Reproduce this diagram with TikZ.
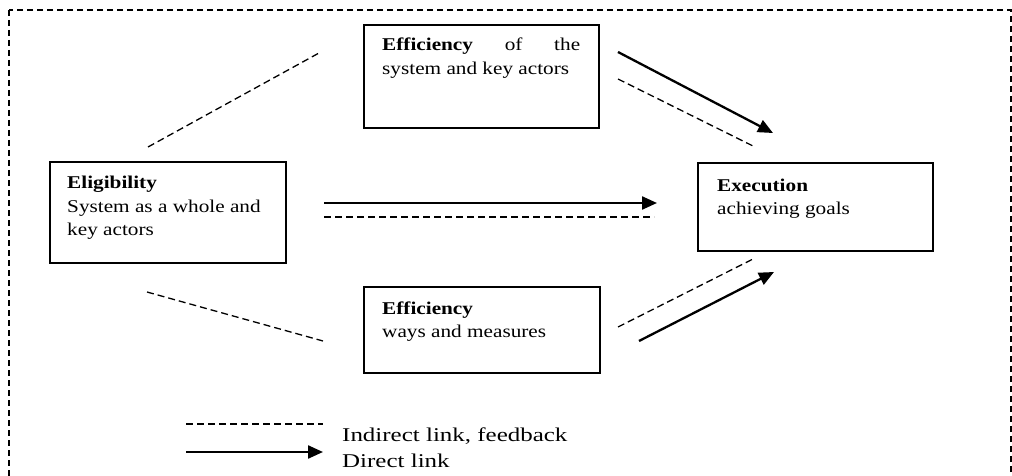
\documentclass[tikz,border=0pt]{standalone}
\usepackage{fontspec}
\setmainfont{Liberation Serif}[FakeStretch=1.18]
\newfontfamily\legfont{Liberation Serif}[FakeStretch=1.28]
\usetikzlibrary{arrows.meta}
\tikzset{
  box/.style={draw, line width=1.7pt, rectangle, anchor=north west, inner sep=0pt},
  lbl/.style={anchor=base west, inner sep=0pt, font=\fontsize{18}{23.5}\selectfont},
  leg/.style={anchor=base west, inner sep=0pt, font=\legfont\fontsize{19.5}{26}\selectfont},
  ind/.style={line width=1.3pt, dash pattern=on 7pt off 4pt},
  dir/.style={line width=2.3pt, -{Triangle[length=15pt,width=13pt]}},
  frame/.style={line width=1.6pt, dash pattern=on 6pt off 4pt}
}
\begin{document}
\begin{tikzpicture}[x=1pt,y=-1pt]
\useasboundingbox (0,0) rectangle (1012,476);
\draw[frame] (9,10) rectangle (1011,500);
% boxes
\node[box, minimum width=235, minimum height=103] (effA) at (363,24) {};
\node[box, minimum width=236, minimum height=101] (elig) at (49,161) {};
\node[box, minimum width=235, minimum height=88] (exec) at (697,162) {};
\node[box, minimum width=236, minimum height=86] (effB) at (363,286) {};
% texts
\node[lbl] (effAtxt) at (382,51) {\begin{tabular}[t]{@{}l@{}}\makebox[198pt][s]{\textbf{Efficiency}\hfill of\hfill the}\\ system and key actors\end{tabular}};
\node[lbl] (eligtxt) at (67,189) {\begin{tabular}[t]{@{}l@{}}\textbf{Eligibility}\\ System as a whole and\\ key actors\end{tabular}};
\node[lbl] (exectxt) at (717,191) {\begin{tabular}[t]{@{}l@{}}\textbf{Execution}\\ achieving goals\end{tabular}};
\node[lbl] (effBtxt) at (382,314) {\begin{tabular}[t]{@{}l@{}}\textbf{Efficiency}\\ ways and measures\end{tabular}};
% connector end points
\coordinate (a1) at (148,147); \coordinate (a2) at (319,53);
\coordinate (b1) at (147,292); \coordinate (b2) at (323,341);
\coordinate (c1) at (618,52);  \coordinate (c2) at (773,133);
\coordinate (d1) at (618,79);  \coordinate (d2) at (755,147);
\coordinate (e1) at (324,203); \coordinate (e2) at (657,203);
\coordinate (f1) at (324,217); \coordinate (f2) at (654,217);
\coordinate (g1) at (618,327); \coordinate (g2) at (755,258);
\coordinate (h1) at (639,341); \coordinate (h2) at (774,272);
\coordinate (l1) at (186,424); \coordinate (l2) at (323,424);
\coordinate (m1) at (186,452); \coordinate (m2) at (323,452);
\draw[ind] (a1) -- (a2);
\draw[ind] (b1) -- (b2);
\draw[dir] (c1) -- (c2);
\draw[ind] (d1) -- (d2);
\draw[dir] (e1) -- (e2);
\draw[ind] (f1) -- (f2);
\draw[ind] (g1) -- (g2);
\draw[dir] (h1) -- (h2);
% legend
\draw[ind] (l1) -- (l2);
\draw[dir] (m1) -- (m2);
\node[leg] (legA) at (342,441) {Indirect link, feedback};
\node[leg] (legB) at (342,467) {Direct link};
\end{tikzpicture}
\end{document}
